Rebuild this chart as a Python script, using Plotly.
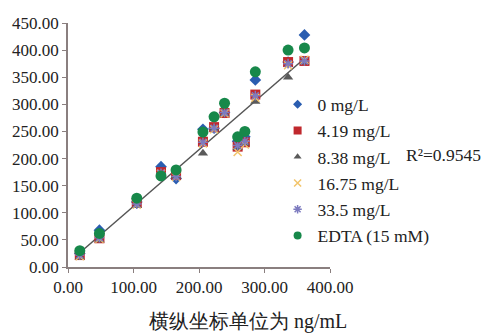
import numpy as np
import plotly.graph_objects as go

x_vals = [18, 48, 105, 142, 165, 206, 223, 239, 259, 270, 286, 336, 361]
s_0 = [25, 68, 120, 185, 163, 254, 256, 285, 232, 240, 345, 378, 428]
s_419 = [22, 53, 118, 175, 170, 231, 258, 284, 222, 230, 318, 378, 380]
s_838 = [18, 50, 113, 170, 168, 210, 256, 282, 220, 228, 305, 350, 378]
s_1675 = [20, 52, 115, 172, 166, 228, 254, 283, 212, 226, 312, 372, 382]
s_335 = [22, 54, 116, 173, 167, 230, 256, 285, 224, 232, 316, 375, 380]
s_edta = [30, 62, 127, 168, 179, 249, 277, 302, 240, 250, 360, 400, 404]

names = ["0 mg/L", "4.19 mg/L", "8.38 mg/L", "16.75 mg/L", "33.5 mg/L", "EDTA (15 mM)"]
series = [s_0, s_419, s_838, s_1675, s_335, s_edta]
symbols = ["diamond", "square", "triangle-up", "x-thin-open", "asterisk-open", "circle"]
colors = ["#2a5db0", "#c0282d", "#5a5a5a", "#f2c46a", "#7d7bbf", "#17884a"]
sizes = [9, 10, 9, 8, 8, 11]
leg_sizes = [7, 8, 7, 7, 7, 8]

serif = "Liberation Serif"

fig = go.Figure()

# trend line from linear fit of all points
all_x = np.concatenate([x_vals] * len(series))
all_y = np.concatenate(series)
k, b = np.polyfit(all_x, all_y, 1)
lx = np.array([min(x_vals), max(x_vals)])
fig.add_trace(go.Scatter(x=lx, y=k * lx + b, mode="lines",
                         line=dict(color="#555555", width=1.5),
                         showlegend=False, hoverinfo="skip"))

for i, (nm, ys) in enumerate(zip(names, series)):
    mk = dict(symbol=symbols[i], color=colors[i], size=sizes[i])
    if "open" in symbols[i]:
        mk["line"] = dict(color=colors[i], width=1.5)
    fig.add_trace(go.Scatter(x=x_vals, y=ys, mode="markers", name=nm,
                             marker=mk, showlegend=False))
    lmk = dict(mk)
    lmk["size"] = leg_sizes[i]
    fig.add_trace(go.Scatter(x=[None], y=[None], mode="markers", name=nm,
                             marker=lmk, legendgroup=f"g{i}"))

fig.update_layout(
    width=485, height=333,
    margin=dict(l=64, r=155, t=23, b=66),
    paper_bgcolor="white", plot_bgcolor="white",
    font=dict(family=serif, size=17, color="#222222"),
    xaxis=dict(range=[0, 400], dtick=100, tickformat=".2f", showgrid=False,
               zeroline=False, showline=True, linecolor="#8a7f7f", linewidth=1.5,
               ticks="outside", ticklen=4, tickcolor="#8a7f7f",
               tickfont=dict(family=serif, size=17)),
    yaxis=dict(range=[0, 450], dtick=50, tickformat=".2f", showgrid=False,
               zeroline=False, showline=True, linecolor="#8a7f7f", linewidth=1.5,
               ticks="outside", ticklen=4, tickcolor="#8a7f7f",
               tickfont=dict(family=serif, size=17)),
    legend=dict(x=0.80, y=0.74, xanchor="left", yanchor="top",
                bgcolor="rgba(0,0,0,0)", font=dict(family=serif, size=17.5),
                traceorder="grouped", tracegroupgap=0.5, itemwidth=30),
    annotations=[
        dict(text="R²=0.9545", x=1.282, y=0.459, xref="paper", yref="paper",
             showarrow=False, xanchor="left", font=dict(family=serif, size=17.5)),
        dict(text="横纵坐标单位为 ng/mL", x=0.688, y=-0.225, xref="paper", yref="paper",
             showarrow=False, xanchor="center", yanchor="middle",
             font=dict(family=serif, size=20)),
    ],
)

fig.write_html("out.html")
